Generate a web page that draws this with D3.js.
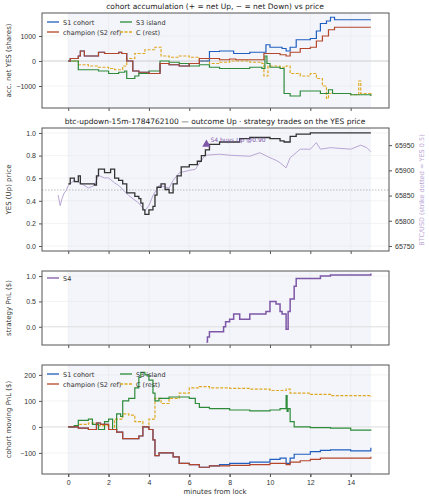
<!DOCTYPE html>
<html>
<head>
<meta charset="UTF-8">
<script src="https://d3js.org/d3.v7.min.js"></script>
<style>
body { margin: 0; background: #fff; font-family: "DejaVu Sans", sans-serif; }
.axis text { font-size: 7px; fill: #333; }
.axis path, .axis line { stroke: #555; }
</style>
</head>
<body>
<svg id="chart" width="429" height="500"></svg>
<script>
// [minute, value] step points
const accS1 = [[0,0],[0.1,100],[0.5,200],[0.6,400],[0.8,200],[1.5,350],[1.8,300],[2.5,350],[2.65,300],[2.9,0],[3.2,-400],[3.5,-450],[4,-500],[4.55,-100],[5,-150],[5.5,-200],[6,-100],[6.5,0],[7,380],[7.5,400],[8.2,300],[9,350],[9.8,650],[10,550],[10.6,500],[10.8,400],[11,550],[11.3,850],[12,900],[12.3,1200],[12.5,1500],[12.8,1600],[13,1750],[13.2,1650],[15,1650]];
const accChamp = [[0,0],[0.1,100],[0.5,200],[0.6,400],[0.8,200],[1.5,350],[1.8,300],[2.5,350],[2.65,300],[2.9,0],[3.2,-400],[3.5,-450],[4,-500],[4.55,-100],[5,-150],[5.5,-200],[6,-100],[6.5,100],[7.5,50],[8,80],[8.3,50],[9.6,50],[9.7,300],[10.5,250],[10.8,200],[11,350],[11.5,500],[12,550],[12.3,800],[12.6,1000],[12.9,1250],[13.2,1350],[15,1350]];
const accS3 = [[0,0],[0.5,-350],[1.5,-400],[2,-500],[2.5,-450],[2.8,-400],[2.9,-700],[3.3,-600],[3.5,-500],[4,-400],[4.55,0],[5,-50],[5.5,-100],[6,-200],[6.5,-150],[7,-250],[7.5,-300],[9,-250],[9.6,-300],[9.75,200],[9.85,-100],[10,-250],[10.5,-300],[10.7,-1300],[11,-1400],[11.5,-1200],[12.5,-1300],[12.9,-1150],[13.1,-1300],[14,-1350],[15,-1400]];
const accRest = [[0,0],[0.5,-150],[1,-200],[1.5,-250],[2,-300],[2.3,-350],[2.7,-200],[2.9,100],[3.3,300],[3.8,450],[4.3,550],[4.6,200],[5,150],[5.5,200],[6,150],[6.5,0],[7,-100],[7.5,-50],[8,0],[9,-50],[9.6,-100],[9.7,-600],[9.9,-200],[10.5,-250],[10.8,-200],[11,-500],[11.5,-600],[12,-500],[12.3,-700],[12.6,-1000],[12.8,-1500],[12.9,-1300],[14,-1350],[14.4,-800],[14.5,-1300],[15,-1400]];

const yesPrice = [[0,0.55],[0.1,0.6],[0.3,0.57],[0.5,0.62],[0.6,0.55],[1.3,0.54],[1.4,0.62],[1.5,0.68],[1.8,0.65],[2.1,0.68],[2.3,0.6],[2.5,0.58],[2.7,0.55],[2.9,0.47],[3.3,0.44],[3.5,0.42],[3.6,0.38],[3.7,0.32],[3.8,0.28],[4,0.32],[4.2,0.35],[4.3,0.45],[4.4,0.52],[4.6,0.55],[4.8,0.5],[5,0.47],[5.2,0.55],[5.4,0.62],[5.6,0.7],[6,0.72],[6.4,0.75],[6.6,0.8],[6.8,0.85],[7,0.9],[7.5,0.92],[8.5,0.95],[9,0.96],[10,0.95],[10.5,0.93],[10.7,0.92],[11,0.97],[11.3,0.99],[12,1.0],[15,1.0]];
const btcUsd = [[-0.5,65851],[-0.4,65830],[-0.3,65845],[-0.2,65855],[-0.1,65860],[0,65870],[0.3,65880],[0.6,65875],[1,65865],[1.3,65870],[1.5,65890],[1.8,65885],[2,65885],[2.3,65875],[2.5,65870],[3,65850],[3.5,65835],[3.8,65820],[4,65830],[4.2,65850],[4.5,65870],[5,65865],[5.2,65880],[5.5,65895],[6,65900],[6.3,65902],[6.6,65920],[6.8,65930],[7.5,65932],[8,65930],[9,65928],[9.5,65935],[10,65925],[10.3,65920],[10.5,65915],[10.8,65905],[11,65925],[11.5,65942],[12,65942],[12.3,65955],[12.5,65942],[13,65945],[14,65942],[14.5,65950],[14.8,65945],[15,65937]];
const strikeUsd = 65861;
const s4Trade = { t: 6.85, price: 0.90, label: "S4 buys Up @0.90" };

const s4Pnl = [[6.85,-0.3],[6.9,-0.2],[7,-0.1],[7.7,0.0],[7.8,0.1],[8,0.15],[8.2,0.25],[8.5,0.15],[9,0.25],[9.8,0.3],[10,0.5],[10.3,0.45],[10.5,0.3],[10.6,0.25],[10.8,-0.05],[10.9,0.3],[11,0.55],[11.2,0.8],[11.3,0.95],[12.5,1.0],[13,1.02],[15,1.05]];

const pnlS1 = [[0,0],[0.5,-5],[1,-10],[1.4,15],[1.6,10],[2,-10],[2.4,-20],[2.7,-45],[3.5,-35],[3.7,0],[4,-10],[4.2,-50],[4.3,-110],[4.5,-100],[5,-100],[5.2,-115],[5.5,-140],[6,-145],[6.5,-155],[7,-150],[7.5,-145],[8,-140],[9,-135],[10,-125],[10.5,-120],[10.8,-140],[11,-120],[11.2,-105],[12,-95],[12.5,-90],[13,-88],[14,-92],[15,-80]];
const pnlChamp = [[0,0],[0.5,-5],[1,-10],[1.4,15],[1.6,10],[2,-10],[2.4,-20],[2.7,-45],[3.5,-35],[3.7,0],[4,-10],[4.2,-50],[4.3,-110],[4.5,-100],[5,-100],[5.2,-115],[5.5,-140],[6,-145],[6.5,-155],[7,-150],[8,-148],[9,-145],[10,-140],[10.8,-145],[11,-135],[11.5,-130],[12,-125],[12.5,-120],[15,-115]];
const pnlS3 = [[0,0],[0.3,5],[0.5,25],[1,30],[1.2,10],[1.5,-10],[1.8,20],[2,30],[2.2,-10],[2.4,50],[2.6,40],[2.7,100],[3,110],[3.3,150],[3.5,190],[3.6,210],[3.8,200],[4,180],[4.2,130],[4.3,100],[4.5,110],[5,115],[6,110],[6.3,90],[6.5,75],[7,70],[8,65],[9,62],[10,65],[10.5,70],[10.8,120],[10.85,60],[10.9,70],[11,20],[11.2,0],[12,-3],[13,-5],[14,-12],[15,-15]];
const pnlRest = [[0,0],[0.5,10],[1,15],[1.5,5],[2,-10],[2.3,30],[2.7,50],[3,45],[3.3,20],[3.7,0],[4,30],[4.3,110],[4.6,90],[5,110],[5.5,130],[6,150],[6.5,155],[7,150],[8,148],[9,145],[10,140],[10.8,145],[11,130],[12,125],[13,120],[15,115]];

const xTicks = [0, 2, 4, 6, 8, 10, 12, 14];
const C = { s1: "#1f5fbf", champ: "#b5462a", s3: "#2e8b3a", rest: "#e0a820", s4: "#7e57a8", btc: "#b9a6d6", yes: "#333" };

const svg = d3.select("#chart");
const x = d3.scaleLinear().domain([-1.3, 15.9]).range([42, 389]);

function panel(top, bottom, domain, ticks, fmt, title, ylabel) {
  const y = d3.scaleLinear().domain(domain).range([bottom, top]);
  const g = svg.append("g");
  g.append("rect").attr("x", x(0)).attr("width", x(15) - x(0)).attr("y", top).attr("height", bottom - top).attr("fill", "#f3f5fa");
  g.selectAll(".vg").data(xTicks).join("line").attr("x1", d => x(d)).attr("x2", d => x(d)).attr("y1", top).attr("y2", bottom).attr("stroke", "#e6e6e6").attr("stroke-width", 0.5);
  g.selectAll(".hg").data(ticks).join("line").attr("y1", d => y(d)).attr("y2", d => y(d)).attr("x1", 42).attr("x2", 389).attr("stroke", "#e6e6e6").attr("stroke-width", 0.5);
  g.append("g").attr("class", "axis").attr("transform", `translate(42,0)`).call(d3.axisLeft(y).tickValues(ticks).tickFormat(fmt).tickSize(3)).select(".domain").remove();
  g.append("g").attr("class", "axis").attr("transform", `translate(0,${bottom})`).call(d3.axisBottom(x).tickValues(xTicks).tickSize(3).tickFormat("")).select(".domain").remove();
  if (title) svg.append("text").attr("x", 215).attr("y", top - 4).attr("text-anchor", "middle").attr("font-size", 7.5).attr("fill", "#222").text(title);
  svg.append("text").attr("transform", `translate(11,${(top + bottom) / 2}) rotate(-90)`).attr("text-anchor", "middle").attr("font-size", 7).attr("fill", "#333").text(ylabel);
  return { y, g, top, bottom };
}
function frame(p) {
  svg.append("rect").attr("x", 42).attr("y", p.top).attr("width", 347).attr("height", p.bottom - p.top).attr("fill", "none").attr("stroke", "#555").attr("stroke-width", 1);
}
function step(p, data, color, dash, w) {
  p.g.append("path").datum(data).attr("fill", "none").attr("stroke", color).attr("stroke-width", w || 1.2)
    .attr("stroke-dasharray", dash ? "3,1.5" : null)
    .attr("d", d3.line().x(d => x(d[0])).y(d => p.y(d[1])).curve(d3.curveStepAfter));
}
function legend(p, items, x0, y0) {
  items.forEach((it, i) => {
    const lx = x0 + (i % 2) * 73, ly = y0 + Math.floor(i / 2) * 10;
    svg.append("line").attr("x1", lx).attr("x2", lx + 12).attr("y1", ly).attr("y2", ly).attr("stroke", it[1]).attr("stroke-width", 1.3).attr("stroke-dasharray", it[2] ? "3,1.5" : null);
    svg.append("text").attr("x", lx + 16).attr("y", ly + 2.5).attr("font-size", 6.5).attr("fill", "#333").text(it[0]);
  });
}

// panel 1
const p1 = panel(13, 108, [-1880, 1920], [-1000, 0, 1000], d3.format(""), "cohort accumulation (+ = net Up, \u2212 = net Down) vs price", "acc. net YES (shares)");
p1.g.append("line").attr("x1", 42).attr("x2", 389).attr("y1", p1.y(0)).attr("y2", p1.y(0)).attr("stroke", "#ccc").attr("stroke-width", 0.8);
step(p1, accRest, C.rest, true);
step(p1, accS3, C.s3);
step(p1, accS1, C.s1);
step(p1, accChamp, C.champ);
legend(p1, [["S1 cohort", C.s1], ["S3 island", C.s3], ["champion (S2 ref)", C.champ], ["C (rest)", C.rest, true]], 47, 22);
frame(p1);

// panel 2
const p2 = panel(128, 251, [-0.044, 1.044], [0, 0.2, 0.4, 0.6, 0.8, 1.0], d3.format(".1f"), "btc-updown-15m-1784762100 \u2014 outcome Up \u00b7 strategy trades on the YES price", "YES (Up) price");
const yUsd = d3.scaleLinear().domain([65740, 65984]).range([251, 128]);
p2.g.append("g").attr("class", "axis").attr("transform", "translate(389,0)").call(d3.axisRight(yUsd).tickValues([65750, 65800, 65850, 65900, 65950]).tickFormat(d3.format("d")).tickSize(3))
  .call(a => { a.select(".domain").remove(); a.selectAll("text").attr("fill", C.btc); a.selectAll("line").attr("stroke", C.btc); });
svg.append("text").attr("transform", `translate(424,${190}) rotate(-90)`).attr("text-anchor", "middle").attr("font-size", 6.5).attr("fill", C.btc).text("BTC/USD (strike dotted = YES 0.5)");
p2.g.append("line").attr("x1", 42).attr("x2", 389).attr("y1", yUsd(strikeUsd)).attr("y2", yUsd(strikeUsd)).attr("stroke", "#aaa").attr("stroke-dasharray", "1.5,1.5").attr("stroke-width", 0.8);
p2.g.append("path").datum(btcUsd).attr("fill", "none").attr("stroke", C.btc).attr("stroke-width", 1)
  .attr("d", d3.line().x(d => x(d[0])).y(d => yUsd(d[1])));
step(p2, yesPrice, C.yes, false, 1.3);
p2.g.append("path").attr("d", d3.symbol(d3.symbolTriangle, 30)()).attr("transform", `translate(${x(s4Trade.t)},${p2.y(s4Trade.price)})`).attr("fill", C.s4);
p2.g.append("text").attr("x", x(s4Trade.t) + 4).attr("y", p2.y(s4Trade.price) - 2).attr("font-size", 6).attr("fill", C.s4).text(s4Trade.label);
frame(p2);

// panel 3
const p3 = panel(271, 345, [-0.36, 1.1], [0, 0.5, 1.0], d3.format(".1f"), null, "strategy PnL ($)");
p3.g.append("line").attr("x1", 42).attr("x2", 389).attr("y1", p3.y(0)).attr("y2", p3.y(0)).attr("stroke", "#ddd").attr("stroke-width", 0.8);
step(p3, s4Pnl, C.s4, false, 1.5);
legend(p3, [["S4", C.s4]], 47, 278);
frame(p3);

// panel 4
const p4 = panel(365, 474, [-181, 238], [-100, 0, 100, 200], d3.format(""), null, "cohort moving PnL ($)");
p4.g.append("line").attr("x1", 42).attr("x2", 389).attr("y1", p4.y(0)).attr("y2", p4.y(0)).attr("stroke", "#ddd").attr("stroke-width", 0.8);
step(p4, pnlRest, C.rest, true);
step(p4, pnlS3, C.s3);
step(p4, pnlS1, C.s1);
step(p4, pnlChamp, C.champ);
legend(p4, [["S1 cohort", C.s1], ["S3 island", C.s3], ["champion (S2 ref)", C.champ], ["C (rest)", C.rest, true]], 47, 374);
frame(p4);
svg.append("g").attr("class", "axis").attr("transform", "translate(0,474)").call(d3.axisBottom(x).tickValues(xTicks).tickSize(3)).select(".domain").remove();
svg.append("text").attr("x", 215).attr("y", 494).attr("text-anchor", "middle").attr("font-size", 7).attr("fill", "#333").text("minutes from lock");
</script>
</body>
</html>
